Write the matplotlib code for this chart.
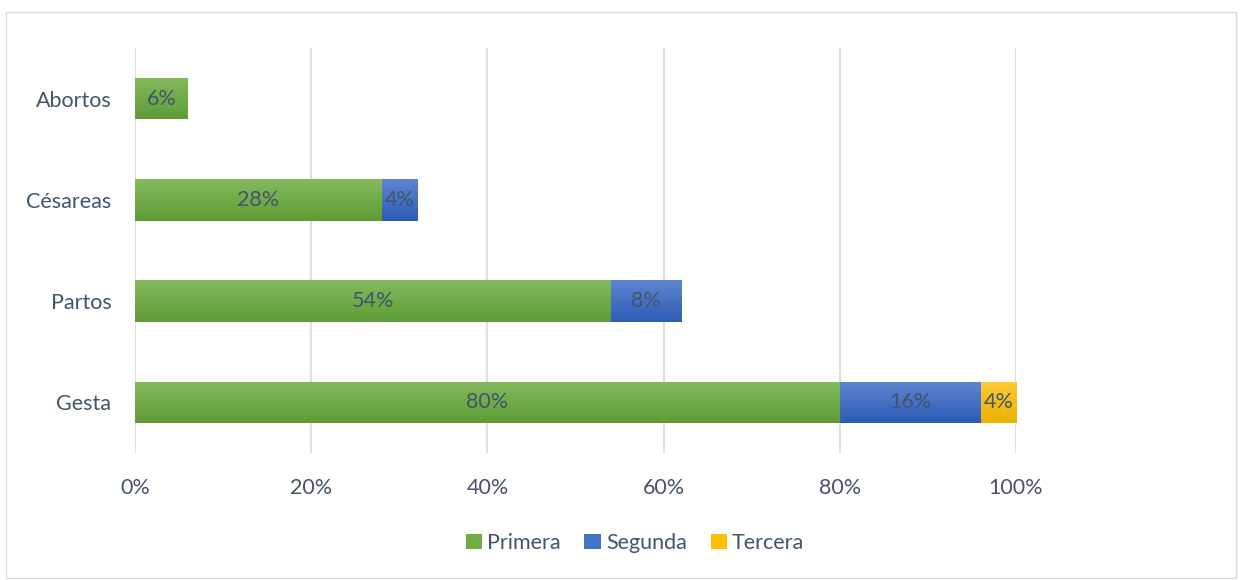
import numpy as np
import matplotlib
matplotlib.use("Agg")
import matplotlib.pyplot as plt
from matplotlib.patches import Rectangle
from matplotlib.colors import LinearSegmentedColormap

categories = ["Gesta", "Partos", "Césareas", "Abortos"]
primera = [80, 54, 28, 6]
segunda = [16, 8, 4, 0]
tercera = [4, 0, 0, 0]
series_names = ["Primera", "Segunda", "Tercera"]
xticks = [0, 20, 40, 60, 80, 100]

# (top, bottom) gradient colours for each series
grad = {
    "Primera": ("#84BA5E", "#5E9C35"),
    "Segunda": ("#5F86D0", "#2C5CB6"),
    "Tercera": ("#FFC936", "#EAB300"),
}
base = {"Primera": "#70AD47", "Segunda": "#4472C4", "Tercera": "#FFC000"}
text_col = "#44546A"
font = "Lato"
fs = 15.5

W, H, DPI = 1241, 580, 100
fig = plt.figure(figsize=(W / DPI, H / DPI), dpi=DPI)
fig.patch.set_facecolor("white")
fig.add_artist(Rectangle((6 / W, 2 / H), 1230 / W, (H - 14) / H, transform=fig.transFigure,
                         fill=False, edgecolor="#D9D9D9", linewidth=1.0))

ax = fig.add_axes([135 / W, 1 - 453 / H, (1016 - 135) / W, (453 - 48) / H])
ax.set_xlim(0, 100)
ax.set_ylim(-0.5, 3.5)
y = np.arange(len(categories))
bh = 0.41

def gradient_bars(bars, name):
    top, bot = grad[name]
    cmap = LinearSegmentedColormap.from_list(name, [bot, top])
    img = np.linspace(0, 1, 64).reshape(-1, 1)
    for b in bars:
        if b.get_width() <= 0:
            continue
        x0, y0 = b.get_x(), b.get_y()
        im = ax.imshow(img, cmap=cmap, aspect="auto", origin="lower",
                       extent=(x0, x0 + b.get_width(), y0, y0 + b.get_height()), zorder=2)
        im.set_clip_path(b)

left = np.zeros(len(categories))
for name, vals in zip(series_names, [primera, segunda, tercera]):
    vals = np.array(vals, dtype=float)
    bars = ax.barh(y, vals, left=left, height=bh, color=base[name], zorder=2, linewidth=0)
    gradient_bars(bars, name)
    for b, v in zip(bars, vals):
        if v > 0:
            ax.text(b.get_x() + b.get_width() / 2, b.get_y() + b.get_height() / 2, f"{v:.0f}%",
                    ha="center", va="center", color=text_col, fontsize=fs, family=font, zorder=4)
    left += vals

ax.set_xticks(xticks)
ax.set_xticklabels([f"{t}%" for t in xticks])
ax.set_yticks(y)
ax.set_yticklabels(categories)
ax.tick_params(axis="both", length=0, colors=text_col, labelsize=fs)
ax.tick_params(axis="x", pad=18)
ax.tick_params(axis="y", pad=17)
for lab in ax.get_xticklabels() + ax.get_yticklabels():
    lab.set_family(font)
ax.grid(axis="x", color="#DDE1E6", linewidth=1.5, zorder=0)
ax.set_axisbelow(True)
for s in ax.spines.values():
    s.set_visible(False)

handles = [Rectangle((0, 0), 1, 1, facecolor=base[n]) for n in series_names]
leg = fig.legend(handles, series_names, loc="center", bbox_to_anchor=(635 / W, 1 - 543 / H),
                 ncol=3, frameon=False, handlelength=0.75, handleheight=0.75, handletextpad=0.25,
                 columnspacing=1.1, prop={"family": font, "size": fs})
for t in leg.get_texts():
    t.set_color(text_col)

fig.savefig("out.png", dpi=DPI, facecolor="white")
